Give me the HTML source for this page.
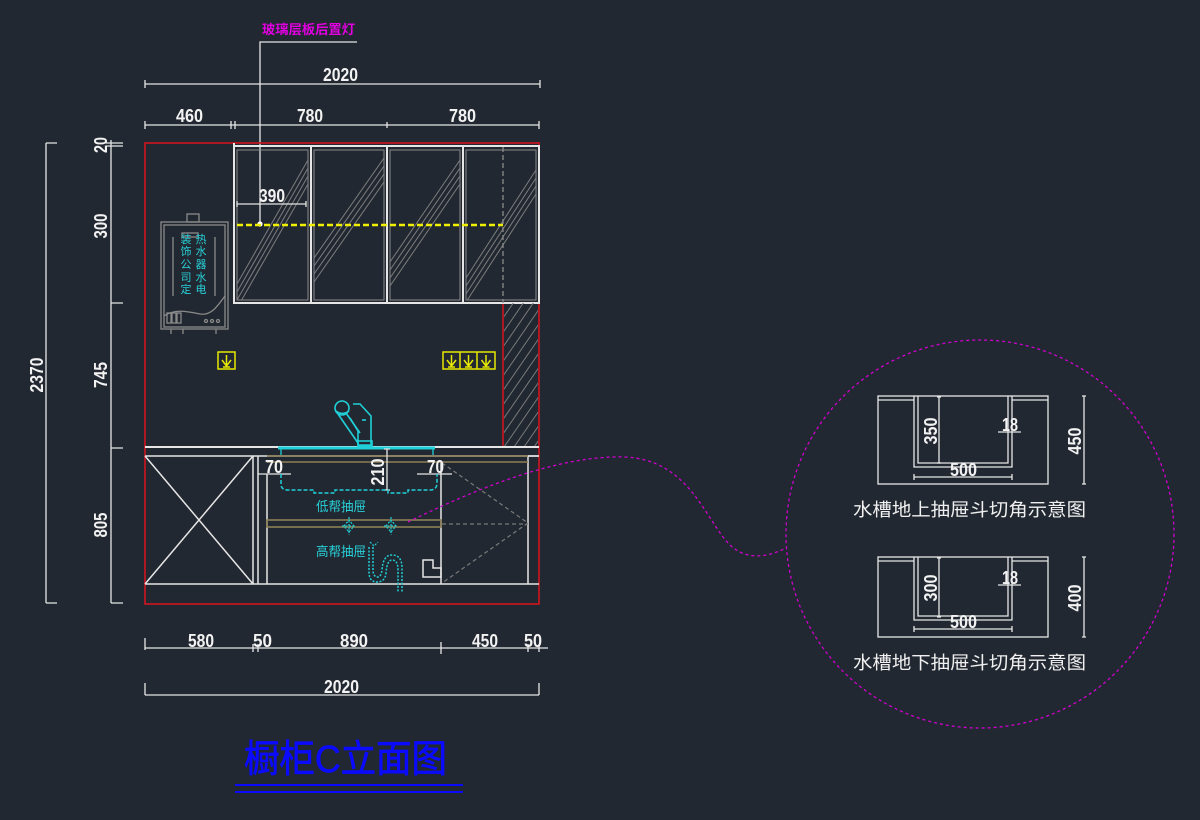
<!DOCTYPE html>
<html><head><meta charset="utf-8">
<style>
html,body{margin:0;padding:0;background:#222831;}
svg{display:block}
text{font-family:"Liberation Sans","Noto Sans CJK SC",sans-serif;}
.d{fill:#f2f2f2;font-size:18px;font-weight:bold;}
.w{stroke:#e6e6e6;fill:none;}
.g{stroke:#8a8a8a;fill:none;}
.c{stroke:#20d0d8;fill:none;}
.y{stroke:#e8e800;fill:none;stroke-width:1.5;}
</style></head><body>
<svg width="1200" height="820" viewBox="0 0 1200 820" xmlns="http://www.w3.org/2000/svg">
<defs>
<clipPath id="d1"><rect x="237" y="150" width="71" height="150"/></clipPath>
<clipPath id="d2"><rect x="314" y="150" width="70" height="150"/></clipPath>
<clipPath id="d3"><rect x="390" y="150" width="70" height="150"/></clipPath>
<clipPath id="d4"><rect x="466" y="150" width="70" height="150"/></clipPath>
<clipPath id="hp"><rect x="504" y="303" width="34" height="144"/></clipPath>
</defs>
<rect width="1200" height="820" fill="#222831"/>

<!-- top leader label -->
<text x="262" y="34" fill="#e000e0" font-size="13" font-weight="bold" textLength="93" lengthAdjust="spacingAndGlyphs" font-family="'Liberation Sans','Noto Sans CJK SC',sans-serif">玻璃层板后置灯</text>
<path class="w" d="M357,42 H260 V224" stroke-width="1.3"/>
<circle cx="260" cy="224" r="2.6" fill="#ffffff"/>

<!-- top dims -->
<g class="w" stroke-width="1.3">
<path d="M145,84 H540 M145,80 V88 M540,80 V88"/>
<path d="M145,125 H539 M145,121 V129 M231,121 V129 M235,121 V129 M387,122 V128 M539,121 V129"/>
</g>
<text class="d" x="323" y="81" textLength="35" lengthAdjust="spacingAndGlyphs">2020</text>
<text class="d" x="176" y="122" textLength="27" lengthAdjust="spacingAndGlyphs">460</text>
<text class="d" x="297" y="122" textLength="26" lengthAdjust="spacingAndGlyphs">780</text>
<text class="d" x="449" y="122" textLength="27" lengthAdjust="spacingAndGlyphs">780</text>

<!-- left dims -->
<g class="w" stroke-width="1.3">
<path d="M46,143 V603 M46,143 H57 M46,603 H57"/>
<path d="M111,140 V603 M106,143 H123 M106,146 H123 M111,303 H123 M111,448 H123 M111,603 H123"/>
</g>
<text class="d" transform="translate(43,375) rotate(-90)" text-anchor="middle" textLength="35" lengthAdjust="spacingAndGlyphs">2370</text>
<text class="d" transform="translate(107,145) rotate(-90)" text-anchor="middle" textLength="16" lengthAdjust="spacingAndGlyphs">20</text>
<text class="d" transform="translate(107,226) rotate(-90)" text-anchor="middle" textLength="25" lengthAdjust="spacingAndGlyphs">300</text>
<text class="d" transform="translate(107,375) rotate(-90)" text-anchor="middle" textLength="26" lengthAdjust="spacingAndGlyphs">745</text>
<text class="d" transform="translate(107,525) rotate(-90)" text-anchor="middle" textLength="25" lengthAdjust="spacingAndGlyphs">805</text>

<!-- red frame -->
<rect x="145" y="143" width="394" height="461" fill="none" stroke="#d0141e" stroke-width="1.6"/>
<path d="M503,303 V447" stroke="#d0141e" stroke-width="1.6"/>

<!-- upper cabinets -->
<g class="g" stroke-width="1">
<rect x="237" y="150" width="71" height="150"/>
<rect x="314" y="150" width="70" height="150"/>
<rect x="390" y="150" width="70" height="150"/>
<rect x="466" y="150" width="70" height="150"/>
</g>
<g stroke="#7d7d7d" stroke-width="1" fill="none">
<g clip-path="url(#d1)"><path d="M237,284 L308,160 M237,292 L308,168 M237,300 L308,176 M237,308 L308,184"/></g>
<g clip-path="url(#d2)"><path d="M314,258 L384,158 M314,266 L384,166 M314,274 L384,174 M314,282 L384,182"/></g>
<g clip-path="url(#d3)"><path d="M390,262 L460,160 M390,270 L460,168 M390,278 L460,176 M390,286 L460,184"/></g>
<g clip-path="url(#d4)"><path d="M466,278 L536,170 M466,286 L536,178 M466,294 L536,186 M466,302 L536,194"/></g>
</g>
<g class="w" stroke-width="2">
<path d="M234,143 V303"/>
<rect x="234" y="146" width="305" height="157"/>
<path d="M311,146 V303 M387,146 V303 M463,146 V303"/>
</g>
<path d="M503,147 V303" stroke="#8a8a8a" stroke-width="1.3" stroke-dasharray="5 3" fill="none"/>
<path d="M237,225 H503" stroke="#f0f000" stroke-width="2.5" stroke-dasharray="6 3" fill="none"/>
<path class="w" d="M237,204 H306 M237,201 V207 M306,201 V207" stroke-width="1.3"/>
<text class="d" x="259" y="202" textLength="26" lengthAdjust="spacingAndGlyphs">390</text>

<!-- water heater -->
<g class="g" stroke-width="1.3">
<rect x="161" y="222" width="67" height="107"/>
<rect x="164" y="225" width="61" height="102"/>
<rect x="187" y="214" width="12" height="8"/>
<rect x="182" y="233" width="16" height="4"/>
<path d="M173,237 V296 M215,237 V296"/>
<path d="M164,316 C175,308 190,312 200,314 C212,316 218,305 225,296"/>
<rect x="167" y="313" width="4" height="10"/><rect x="172" y="313" width="4" height="10"/><rect x="177" y="313" width="4" height="10"/>
<circle cx="206" cy="321" r="1.5"/><circle cx="212" cy="321" r="1.5"/><circle cx="218" cy="321" r="1.5"/>
<path d="M171,329 V334 M183,329 V334 M216,329 V334"/>
</g>
<g fill="#28d0d8" font-size="11" text-anchor="middle" font-family="'Noto Sans CJK SC',sans-serif">
<text x="186" y="243">装</text><text x="186" y="255">饰</text><text x="186" y="268">公</text><text x="186" y="281">司</text><text x="186" y="293">定</text>
<text x="201" y="243">热</text><text x="201" y="255">水</text><text x="201" y="268">器</text><text x="201" y="281">水</text><text x="201" y="293">电</text>
</g>

<!-- sockets -->
<g class="y">
<rect x="218" y="352" width="17" height="17"/>
<path d="M226.5,355 V366 M222,360 L226.5,366 L231,360 M223,367 H230"/>
<rect x="443" y="352" width="52" height="17"/>
<path d="M460,352 V369 M477,352 V369"/>
<path d="M451.5,355 V366 M447,360 L451.5,366 L456,360 M448,367 H455"/>
<path d="M468.5,355 V366 M464,360 L468.5,366 L473,360 M465,367 H472"/>
<path d="M486,355 V366 M481.5,360 L486,366 L490.5,360 M482.5,367 H489.5"/>
</g>

<!-- hatched panel -->
<g clip-path="url(#hp)" stroke="#7a7a7a" stroke-width="1" fill="none">
<path d="M404,447 l100,-145 M414,447 l100,-145 M424,447 l100,-145 M434,447 l100,-145 M444,447 l100,-145 M454,447 l100,-145 M464,447 l100,-145 M474,447 l100,-145 M484,447 l100,-145 M494,447 l100,-145 M504,447 l100,-145 M514,447 l100,-145 M524,447 l100,-145 M534,447 l100,-145"/>
</g>

<!-- counter -->
<path class="w" d="M145,447 H539" stroke-width="2"/>
<path class="w" d="M145,456 H539" stroke-width="1.5"/>

<!-- faucet -->
<g class="c" stroke-width="1.6">
<circle cx="342" cy="408" r="7"/>
<path d="M336,411 Q342,416 349,411"/>
<path d="M338,414 L358,443 M346,413 L360,433"/>
<path d="M353,404 L360,404 L371,416 L371,445 L358,445 L358,431 L350,418"/>
<path d="M362,420 L366,420"/>
<rect x="358" y="441" width="14" height="5"/>
</g>
<path d="M278,448 H435" stroke="#20d0d8" stroke-width="3"/>
<path class="c" d="M281,448 V455 M433,448 V455" stroke-width="1.3"/>

<!-- lower cabinets -->
<g class="w" stroke-width="1.5">
<path d="M145,456 L253,584 M253,456 L145,584"/>
<path d="M253,456 V584 M258,456 V584 M267,474 V584 M441,462 V584 M528,456 V584 M528,456 H539"/>
<path d="M145,584 H539"/>
<path d="M423,560 H433 V568 H441 V577 H423 Z"/>
</g>
<g stroke="#8d7f55" stroke-width="1.6" fill="none">
<path d="M267,456 H528 M267,462 H528"/>
<rect x="267" y="520" width="174" height="7"/>
</g>
<path d="M442,463 L528,523 L442,583 M442,524 H528" stroke="#7a7a7a" stroke-width="1.2" stroke-dasharray="4 3" fill="none"/>

<!-- inner dims -->
<path class="w" d="M258,474 H291 M417,474 H452 M387,449 V490 M384,449 H390 M384,490 H390" stroke-width="1.3"/>
<text class="d" x="265" y="473" textLength="18" lengthAdjust="spacingAndGlyphs">70</text>
<text class="d" x="427" y="473" textLength="17" lengthAdjust="spacingAndGlyphs">70</text>
<text class="d" transform="translate(384,472) rotate(-90)" text-anchor="middle" textLength="27" lengthAdjust="spacingAndGlyphs">210</text>

<!-- cyan sink bowl dashed -->
<path class="c" d="M281,474 V484 Q281,490 288,490 H314 V493 H335 V490 H388 V493 H408 V490 H430 Q437,490 437,483 V474" stroke-width="1.5" stroke-dasharray="4 2"/>
<g fill="#28d0d8" font-size="13" font-family="'Noto Sans CJK SC',sans-serif">
<text x="316" y="511" textLength="50" lengthAdjust="spacingAndGlyphs">低帮抽屉</text>
<text x="316" y="556" textLength="50" lengthAdjust="spacingAndGlyphs">高帮抽屉</text>
</g>
<g class="c" stroke-width="1.2" stroke-dasharray="2 1.5">
<path d="M344,526 L349,520 L354,526 L349,532 Z M349,517 V535 M342,526 H356"/>
<path d="M386,526 L391,520 L396,526 L391,532 Z M391,517 V535 M384,526 H398"/>
<path d="M369,547 V572 Q369,582 377,582 Q385,582 386,573 Q387,560 392,560 Q398,560 398,570 V592" stroke-width="1.5"/>
<path d="M373,547 V570 Q373,577 378,577 Q381,577 382,570 Q383,555 392,555 Q402,555 402,568 V592" stroke-width="1.5"/>
<path d="M370,542 L374,546 L378,542" stroke-width="1.2"/>
</g>

<!-- bottom dims -->
<g class="w" stroke-width="1.3">
<path d="M145,648 H548 M145,638 V650 M253,644 V652 M258,644 V652 M441,642 V654 M528,644 V652 M539,644 V652"/>
<path d="M145,695 H539 M145,683 V695 M539,683 V695"/>
</g>
<text class="d" x="188" y="647" textLength="26" lengthAdjust="spacingAndGlyphs">580</text>
<text class="d" x="253" y="647" textLength="19" lengthAdjust="spacingAndGlyphs">50</text>
<text class="d" x="340" y="647" textLength="28" lengthAdjust="spacingAndGlyphs">890</text>
<text class="d" x="472" y="647" textLength="26" lengthAdjust="spacingAndGlyphs">450</text>
<text class="d" x="524" y="647" textLength="18" lengthAdjust="spacingAndGlyphs">50</text>
<text class="d" x="324" y="693" textLength="35" lengthAdjust="spacingAndGlyphs">2020</text>

<!-- title -->
<text x="244" y="772" fill="#0a0aff" stroke="#0a0aff" stroke-width="0.7" font-size="38" textLength="203" lengthAdjust="spacingAndGlyphs" font-family="'Liberation Sans','Noto Sans CJK SC',sans-serif">橱柜C立面图</text>
<path d="M235,785 H463 M235,792 H463" stroke="#0a0aff" stroke-width="2"/>

<!-- magenta connection -->
<path d="M408,522 C480,487 560,455 625,457 C690,460 705,520 730,545 C748,562 770,556 786,548" fill="none" stroke="#d000d0" stroke-width="1.3" stroke-dasharray="3 3"/>
<circle cx="980" cy="534" r="194" fill="none" stroke="#d000d0" stroke-width="1.3" stroke-dasharray="3 3"/>

<!-- detail 1 -->
<g class="w" stroke-width="1.3">
<rect x="878" y="396" width="170" height="88"/>
<path d="M878,400 H914 M1012,400 H1048"/>
<path d="M914,396 V467 H1012 V396 M918,396 V463 H1008 V396"/>
<path d="M939,397 V463 M937,397 H941 M937,463 H941"/>
<path d="M998,432 H1021"/>
<path d="M914,477 H1012 M914,474 V480 M1012,474 V480"/>
<path d="M1084,396 V484 M1082,396 H1086 M1082,484 H1086"/>
</g>
<text class="d" transform="translate(937,431) rotate(-90)" text-anchor="middle" textLength="27" lengthAdjust="spacingAndGlyphs">350</text>
<text class="d" x="1002" y="431" textLength="16" lengthAdjust="spacingAndGlyphs">18</text>
<text class="d" x="950" y="476" textLength="27" lengthAdjust="spacingAndGlyphs">500</text>
<text class="d" transform="translate(1081,441) rotate(-90)" text-anchor="middle" textLength="27" lengthAdjust="spacingAndGlyphs">450</text>
<text x="853" y="516" fill="#f0f0f0" font-size="18" textLength="233" lengthAdjust="spacingAndGlyphs" font-family="'Noto Sans CJK SC',sans-serif">水槽地上抽屉斗切角示意图</text>

<!-- detail 2 -->
<g class="w" stroke-width="1.3">
<rect x="878" y="557" width="170" height="80"/>
<path d="M878,561 H914 M1012,561 H1048"/>
<path d="M914,557 V620 H1012 V557 M918,557 V616 H1008 V557"/>
<path d="M939,558 V617 M937,558 H941 M937,617 H941"/>
<path d="M998,585 H1021"/>
<path d="M914,629 H1012 M914,626 V632 M1012,626 V632"/>
<path d="M1084,557 V637 M1082,557 H1086 M1082,637 H1086"/>
</g>
<text class="d" transform="translate(937,588) rotate(-90)" text-anchor="middle" textLength="27" lengthAdjust="spacingAndGlyphs">300</text>
<text class="d" x="1002" y="584" textLength="16" lengthAdjust="spacingAndGlyphs">18</text>
<text class="d" x="950" y="628" textLength="27" lengthAdjust="spacingAndGlyphs">500</text>
<text class="d" transform="translate(1081,598) rotate(-90)" text-anchor="middle" textLength="27" lengthAdjust="spacingAndGlyphs">400</text>
<text x="853" y="669" fill="#f0f0f0" font-size="18" textLength="233" lengthAdjust="spacingAndGlyphs" font-family="'Noto Sans CJK SC',sans-serif">水槽地下抽屉斗切角示意图</text>
</svg>
</body></html>
